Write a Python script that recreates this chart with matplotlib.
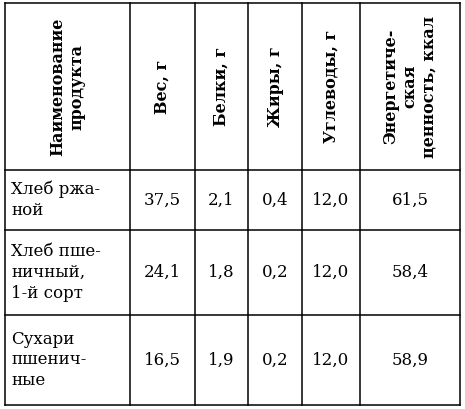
import matplotlib
matplotlib.use("Agg")
import matplotlib.pyplot as plt

headers = ["Наименование\nпродукта", "Вес, г", "Белки, г", "Жиры, г", "Углеводы, г",
           "Энергетиче-\nская\nценность, ккал"]
products = ["Хлеб ржа-\nной", "Хлеб пше-\nничный,\n1-й сорт", "Сухари\nпшенич-\nные"]
weight = ["37,5", "24,1", "16,5"]
protein = ["2,1", "1,8", "1,9"]
fat = ["0,4", "0,2", "0,2"]
carbs = ["12,0", "12,0", "12,0"]
energy = ["61,5", "58,4", "58,9"]

col_x = [5, 130, 195, 248, 302, 360, 460]
row_y = [3, 170, 230, 315, 405]

fig = plt.figure(figsize=(4.65, 4.09), dpi=100)
ax = fig.add_axes([0, 0, 1, 1])
ax.set_xlim(0, 465)
ax.set_ylim(409, 0)
ax.axis("off")
font = "DejaVu Serif"

for x in col_x:
    ax.plot([x, x], [row_y[0], row_y[-1]], color="black", lw=1.1)
for y in row_y:
    ax.plot([col_x[0], col_x[-1]], [y, y], color="black", lw=1.1)

for i, h in enumerate(headers):
    cx = (col_x[i] + col_x[i + 1]) / 2
    ax.text(cx, (row_y[0] + row_y[1]) / 2, h, rotation=90, ha="center", va="center",
            fontsize=11.5, fontweight="bold", family=font, linespacing=1.15)

cols = [weight, protein, fat, carbs, energy]
for r in range(3):
    cy = (row_y[r + 1] + row_y[r + 2]) / 2
    ax.text(col_x[0] + 6, cy, products[r], ha="left", va="center", fontsize=12,
            family=font, linespacing=1.3)
    for c, vals in enumerate(cols):
        cx = (col_x[c + 1] + col_x[c + 2]) / 2
        ax.text(cx, cy, vals[r], ha="center", va="center", fontsize=12, family=font)

fig.savefig("out.png", dpi=100)
